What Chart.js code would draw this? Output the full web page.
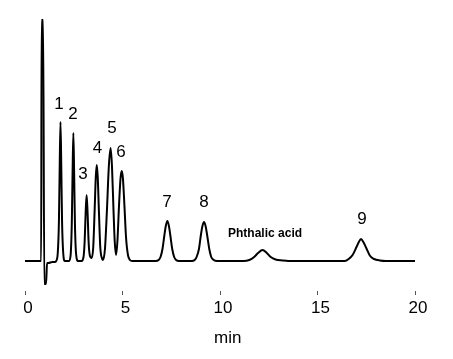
<!DOCTYPE html>
<html>
<head>
<meta charset="utf-8">
<script src="https://cdn.jsdelivr.net/npm/chart.js@4.4.1/dist/chart.umd.min.js"></script>
<style>
html,body{margin:0;padding:0;background:#fff;}
#wrap{width:453px;height:359px;position:relative;}
</style>
</head>
<body>
<div id="wrap"><canvas id="c" width="453" height="359"></canvas></div>
<script>
// Retention time (min) and detector signal (arbitrary units, baseline = 0)
const times = [
  0.00, 0.80, 0.83, 0.85, 0.93, 0.99, 1.08, 1.13, 1.20, 1.40, 1.55,
  1.60, 1.68, 1.74, 1.78, 1.82, 1.86, 1.90, 1.96, 2.04,
  2.26, 2.34, 2.40, 2.44, 2.48, 2.52, 2.56, 2.62, 2.72,
  2.90, 3.00, 3.06, 3.11, 3.16, 3.21, 3.26, 3.32, 3.42,
  3.50, 3.57, 3.63, 3.68, 3.73, 3.79, 3.86, 3.96, 4.00,
  4.10, 4.20, 4.30, 4.39, 4.46, 4.54, 4.60, 4.67,
  4.74, 4.82, 4.90, 4.96, 5.02, 5.10, 5.18, 5.28, 5.38, 5.50,
  6.70, 6.85, 6.95, 7.05, 7.15, 7.22, 7.30, 7.38, 7.45, 7.55, 7.65, 7.75, 7.90,
  8.55, 8.70, 8.80, 8.92, 9.02, 9.10, 9.18, 9.26, 9.34, 9.45, 9.55, 9.68, 9.85,
  11.20, 11.50, 11.75, 11.95, 12.18, 12.40, 12.60, 12.85, 13.20, 13.50,
  16.40, 16.60, 16.80, 17.00, 17.12, 17.23, 17.35, 17.50, 17.70, 17.90, 18.20, 18.50, 20.00
];
const signal = [
  0, 0, 0, 241, 241, -23, -23, -2, -2, -1, -1,
  0, 8, 40, 95, 139, 95, 40, 8, 0,
  0, 6, 38, 88, 128, 88, 38, 7, 0,
  0, 4, 20, 48, 66, 48, 20, 6, 3,
  14, 50, 84, 96, 84, 50, 14, 2, 1,
  12, 50, 95, 113, 95, 50, 20, 6,
  20, 55, 83, 90, 83, 55, 24, 6, 1, 0,
  0, 1, 4, 12, 26, 35, 40, 35, 26, 12, 4, 1, 0,
  0, 1, 4, 12, 26, 35, 39, 35, 26, 12, 4, 1, 0,
  0, 1, 4, 8, 11, 8, 4, 1.5, 0.5, 0,
  0, 2, 6, 14, 19, 22, 19, 13, 5, 2, 0.5, 0, 0
];
// Peak annotations
const peakLabels = ["1", "2", "3", "4", "5", "6", "7", "8", "Phthalic acid", "9"];
const labelTimes = [1.74, 2.46, 2.97, 3.72, 4.46, 4.92, 7.28, 9.18, 12.31, 17.28];
const labelHeights = [157, 147, 87, 113, 133, 109, 59, 59, 27, 42];
const xTicks = [0, 5, 10, 15, 20];
const xTitle = "min";

const points = times.map((t, i) => ({x: t, y: signal[i]}));
const FONT = '"Liberation Sans", Arial, sans-serif';

const annot = {
  id: 'annot',
  afterDatasetsDraw(chart) {
    const ctx = chart.ctx, xs = chart.scales.x, ys = chart.scales.y;
    ctx.save();
    ctx.fillStyle = '#000';
    ctx.textAlign = 'center';
    ctx.textBaseline = 'middle';
    peakLabels.forEach((lab, i) => {
      ctx.font = lab.length > 2 ? 'bold 12px ' + FONT : '17px ' + FONT;
      ctx.fillText(lab, xs.getPixelForValue(labelTimes[i]), ys.getPixelForValue(labelHeights[i]));
    });
    // axis title
    ctx.font = '17px ' + FONT;
    ctx.textBaseline = 'alphabetic';
    ctx.fillText(xTitle, xs.getPixelForValue(10.4), xs.bottom - 16);
    ctx.restore();
  }
};

new Chart(document.getElementById('c'), {
  type: 'line',
  data: {
    datasets: [{
      label: 'Signal',
      data: points,
      borderColor: '#000',
      borderWidth: 2,
      pointRadius: 0,
      fill: false,
      cubicInterpolationMode: 'monotone'
    }]
  },
  options: {
    responsive: false,
    animation: false,
    devicePixelRatio: 1,
    layout: {padding: {left: 25, right: 38, top: 16, bottom: 0}},
    plugins: {legend: {display: false}, tooltip: {enabled: false}},
    scales: {
      x: {
        type: 'linear',
        min: 0, max: 20,
        afterBuildTicks(scale) { scale.ticks = xTicks.map(v => ({value: v})); },
        afterFit(scale) { scale.height = 68; },
        border: {display: false},
        grid: {drawOnChartArea: false, tickLength: 4, color: '#555', lineWidth: 1},
        ticks: {color: '#000', padding: 3, maxRotation: 0, labelOffset: 3,
                font: {family: FONT, size: 17}},
        title: {display: false, text: xTitle}
      },
      y: {
        display: false,
        min: -30, max: 245
      }
    }
  },
  plugins: [annot]
});
</script>
</body>
</html>
